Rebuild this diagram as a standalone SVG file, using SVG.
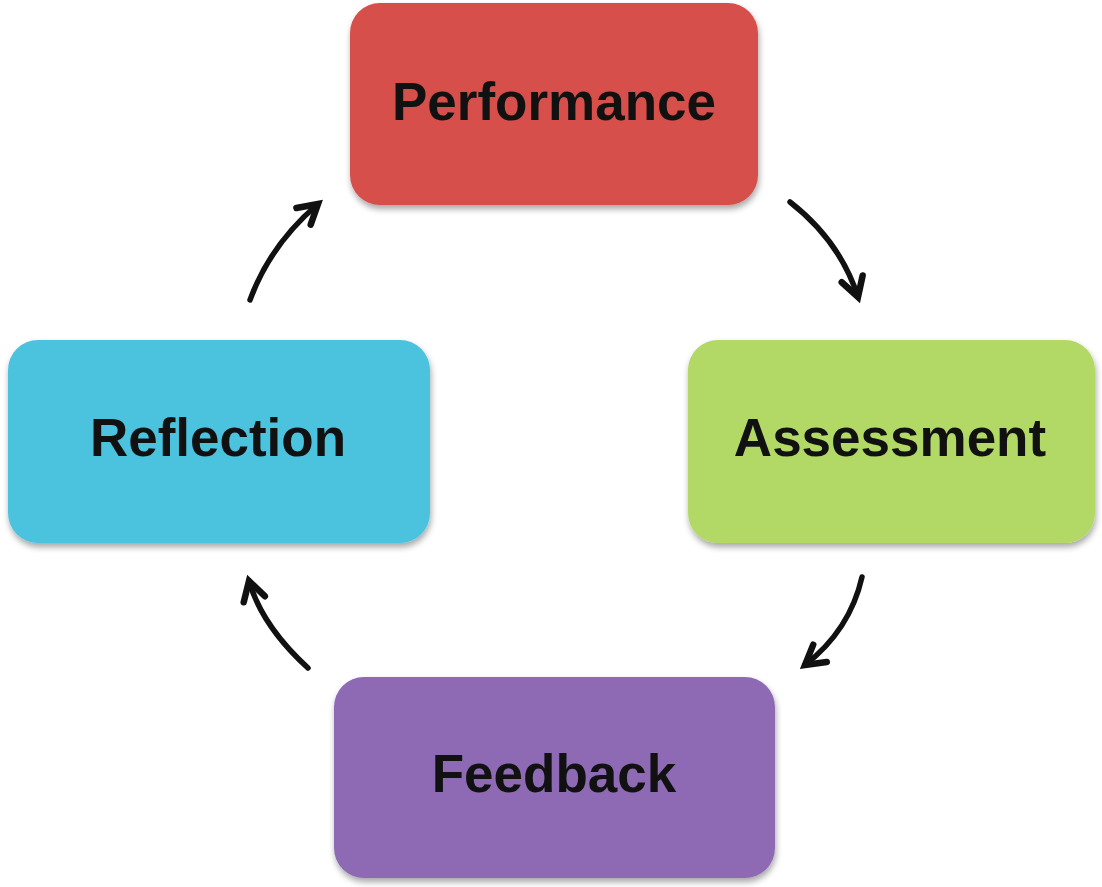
<svg xmlns="http://www.w3.org/2000/svg" width="1102" height="887" viewBox="0 0 1102 887">
  <style>
    .box { stroke: none; filter: url(#shadow); }
    .label { font-family: "Liberation Sans", Arial, sans-serif; font-weight: bold; font-size: 53px; fill: #111111; text-anchor: middle; }
    .arrow { fill: none; stroke: #111111; stroke-width: 5.5; stroke-linecap: round; marker-end: url(#head); }
  </style>
  <defs>
    <filter id="shadow" x="-10%" y="-10%" width="125%" height="130%">
      <feDropShadow dx="1" dy="4" stdDeviation="3" flood-color="#000000" flood-opacity="0.35"/>
    </filter>
    <marker id="head" markerUnits="userSpaceOnUse" markerWidth="32" markerHeight="32" viewBox="-25 -16 32 32" refX="0" refY="0" orient="auto">
      <path d="M -19 -11 L 0 0 L -19 11" fill="none" stroke="#111111" stroke-width="6.5" stroke-linejoin="miter" stroke-linecap="round"/>
    </marker>
  </defs>

  <rect width="1102" height="887" fill="#ffffff"/>

  <!-- cycle arrows -->
  <g id="connectors">
    <path class="arrow" d="M 790 202 Q 840 241 858 297"/>
    <path class="arrow" d="M 862 577 Q 850 630 805 665"/>
    <path class="arrow" d="M 308 668 Q 262 626 249 581"/>
    <path class="arrow" d="M 250 300 Q 270 245 318 204"/>
  </g>

  <g id="performance">
    <rect class="box" x="350" y="3" width="408" height="202" rx="30" ry="30" fill="#d74f4c"/>
    <text class="label" x="554" y="120">Performance</text>
  </g>

  <g id="assessment">
    <rect class="box" x="688" y="340" width="407" height="203" rx="30" ry="30" fill="#b2d865"/>
    <text class="label" x="890" y="456">Assessment</text>
  </g>

  <g id="feedback">
    <rect class="box" x="334" y="677" width="441" height="201" rx="30" ry="30" fill="#8e6bb5"/>
    <text class="label" x="554" y="792">Feedback</text>
  </g>

  <g id="reflection">
    <rect class="box" x="8" y="340" width="422" height="203" rx="30" ry="30" fill="#4bc3df"/>
    <text class="label" x="218" y="456">Reflection</text>
  </g>
</svg>
